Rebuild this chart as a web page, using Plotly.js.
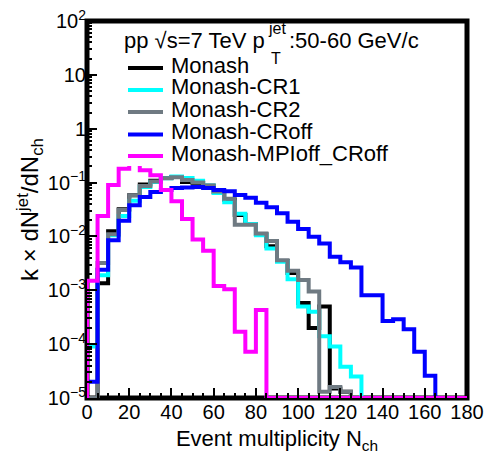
<!DOCTYPE html>
<html>
<head>
<meta charset="utf-8">
<script src="https://cdn.plot.ly/plotly-3.0.1.min.js"></script>
<style>html,body{margin:0;padding:0;background:#fff;}#chart{width:487px;height:476px;}</style>
</head>
<body>
<div id="chart"></div>
<script>
// ---- data (bin low edges, bin width 5) ----
const binLow = [0,5,10,15,20,25,30,35,40,45,50,55,60,65,70,75,80,85,90,95,100,105,110,115,120,125,130,135,140,145,150,155,160,165,170,175];
const binWidth = 5;
const monash = [0,1.35e-3,0.0125,0.032,0.058,0.092,0.108,0.122,0.127,0.103,0.098,0.087,0.066,0.048,0.025,0.017,0.011,6.6e-3,3.5e-3,2.1e-3,5.8e-4,2.0e-4,5.0e-4,1.5e-5,1.3e-5,0,0,0,0,0,0,0,0,0,0,0];
const cr1    = [9e-5,1.9e-3,0.0105,0.024,0.046,0.083,0.102,0.12,0.13,0.122,0.108,0.088,0.064,0.043,0.0265,0.017,0.0105,6.0e-3,3.4e-3,1.6e-3,5.0e-4,4.0e-4,1.4e-4,9.0e-5,3.8e-5,2.5e-5,0,0,0,0,0,0,0,0,0,0];
const cr2    = [0,3.2e-3,0.011,0.031,0.058,0.086,0.105,0.12,0.125,0.112,0.1,0.088,0.068,0.05,0.0165,0.0165,0.0113,8.2e-3,3.6e-3,2.3e-3,1.55e-3,9.5e-4,1.3e-5,1.6e-5,1.3e-5,0,0,0,0,0,0,0,0,0,0,0];
const croff  = [2.0e-5,2.4e-3,8.5e-3,0.0195,0.038,0.054,0.067,0.073,0.079,0.081,0.083,0.079,0.073,0.069,0.059,0.052,0.042,0.035,0.027,0.0187,0.0138,0.0099,0.0074,4.2e-3,3.3e-3,2.65e-3,8.1e-4,8.1e-4,2.7e-4,2.9e-4,1.9e-4,7.2e-5,2.6e-5,0,0,0];
const mpioff = [1.5e-3,0.024,0.09,0.18,0.24,0.17,0.137,0.073,0.045,0.021,0.0088,0.0054,1.2e-3,1.05e-3,1.7e-4,7.2e-5,4.3e-4,0,0,0,0,0,0,0,0,0,0,0,0,0,0,0,0,0,0,0];

const seriesNames  = ['Monash','Monash-CR1','Monash-CR2','Monash-CRoff','Monash-MPIoff_CRoff'];
const seriesValues = [monash, cr1, cr2, croff, mpioff];
const seriesColors = ['#000000','#00ffff','#6f7a82','#0000ff','#ff00ff'];

const xTickVals = [0,20,40,60,80,100,120,140,160,180];
const yTickVals = [1e-5,1e-4,1e-3,1e-2,1e-1,1,10,100];
const yTickText = ['10<sup>\u22125</sup>','10<sup>\u22124</sup>','10<sup>\u22123</sup>','10<sup>\u22122</sup>','10<sup>\u22121</sup>','1','10','10<sup>2</sup>'];

const headerMain = 'pp \u221As=7 TeV p';
const headerSup = 'jet';
const headerSub = 'T';
const headerTail = ':50-60 GeV/c';
const xTitle = 'Event multiplicity N<sub>ch</sub>';
const yTitle = 'k \u00D7 dN<sup>jet</sup>/dN<sub>ch</sub>';

// ---- layout geometry ----
const FIG_W = 487, FIG_H = 476;
const M = {l: 87, r: 20, t: 21, b: 78};
const PW = FIG_W - M.l - M.r, PH = FIG_H - M.t - M.b;
const px = v => (v - M.l) / PW;           // pixel x -> paper
const py = v => (FIG_H - M.b - v) / PH;   // pixel y -> paper
const FLOOR = 1e-5;
const FONT = 'Liberation Sans, Arial, Helvetica, sans-serif';

function stepTrace(vals, name, color) {
  const xs = [binLow[0]], ys = [FLOOR];
  for (let i = 0; i < vals.length; i++) {
    xs.push(binLow[i]);
    ys.push(vals[i] > 0 ? vals[i] : FLOOR);
  }
  const end = binLow[binLow.length - 1] + binWidth;
  const last = vals[vals.length - 1];
  xs.push(end); ys.push(last > 0 ? last : FLOOR);
  xs.push(end); ys.push(FLOOR);
  return {x: xs, y: ys, name: name, type: 'scatter', mode: 'lines',
          line: {shape: 'hv', color: color, width: 4}, showlegend: false, hoverinfo: 'skip'};
}

const traces = seriesValues.map((v, i) => stepTrace(v, seriesNames[i], seriesColors[i]));

// minor y ticks 2..9 per decade
const yMinor = [];
for (let k = -5; k < 2; k++) for (let d = 2; d <= 9; d++) yMinor.push(d * Math.pow(10, k));

// legend (drawn as box + samples + text)
const legY = [68, 90, 112, 134.5, 156];
const shapes = [
  {type: 'rect', xref: 'paper', yref: 'paper', x0: 0, x1: 1, y0: 0, y1: 1,
   line: {color: 'black', width: 5}, layer: 'below'},
  {type: 'rect', xref: 'paper', yref: 'paper', x0: px(112), x1: px(440), y0: py(166), y1: py(28),
   fillcolor: 'white', line: {width: 0}, layer: 'above'}
];
const annotations = [
  {text: headerMain, x: px(122), y: py(41), xref: 'paper', yref: 'paper', xanchor: 'left', yanchor: 'middle',
   showarrow: false, font: {family: FONT, size: 22, color: 'black'}},
  {text: headerSup, x: px(266), y: py(28), xref: 'paper', yref: 'paper', xanchor: 'left', yanchor: 'middle',
   showarrow: false, font: {family: FONT, size: 16, color: 'black'}},
  {text: headerSub, x: px(269), y: py(58), xref: 'paper', yref: 'paper', xanchor: 'left', yanchor: 'middle',
   showarrow: false, font: {family: FONT, size: 16, color: 'black'}},
  {text: headerTail, x: px(287), y: py(41), xref: 'paper', yref: 'paper', xanchor: 'left', yanchor: 'middle',
   showarrow: false, font: {family: FONT, size: 22, color: 'black'}}
];
seriesNames.forEach((n, i) => {
  shapes.push({type: 'line', xref: 'paper', yref: 'paper', x0: px(128), x1: px(163), y0: py(legY[i]), y1: py(legY[i]),
               line: {color: seriesColors[i], width: 4}, layer: 'above'});
  annotations.push({text: n, x: px(169), y: py(legY[i] - 3), xref: 'paper', yref: 'paper', xanchor: 'left', yanchor: 'middle',
                    showarrow: false, font: {family: FONT, size: 22, color: 'black'}});
});

const layout = {
  width: FIG_W, height: FIG_H,
  margin: M,
  paper_bgcolor: 'white', plot_bgcolor: 'rgba(0,0,0,0)',
  font: {family: FONT, color: 'black'},
  xaxis: {
    range: [0, 180], tickmode: 'array', tickvals: xTickVals,
    ticks: 'inside', ticklen: 10, tickwidth: 2, tickcolor: 'black',
    minor: {tickmode: 'linear', tick0: 0, dtick: 5, ticks: 'inside', ticklen: 5, tickwidth: 2, tickcolor: 'black'},
    showgrid: false, zeroline: false, showline: false,
    tickfont: {family: FONT, size: 20, color: 'black'},
    title: {text: xTitle, font: {family: FONT, size: 22, color: 'black'}, standoff: 8}
  },
  yaxis: {
    type: 'log', range: [-5, 2], tickmode: 'array', tickvals: yTickVals, ticktext: yTickText,
    ticks: 'inside', ticklen: 10, tickwidth: 2, tickcolor: 'black',
    minor: {tickmode: 'array', tickvals: yMinor, ticks: 'inside', ticklen: 5, tickwidth: 2, tickcolor: 'black'},
    showgrid: false, zeroline: false, showline: false,
    tickfont: {family: FONT, size: 20, color: 'black'},
    title: {text: yTitle, font: {family: FONT, size: 24, color: 'black'}, standoff: 2}
  },
  shapes: shapes,
  annotations: annotations,
  showlegend: false
};

Plotly.newPlot('chart', traces, layout, {staticPlot: true, displayModeBar: false});
</script>
</body>
</html>
